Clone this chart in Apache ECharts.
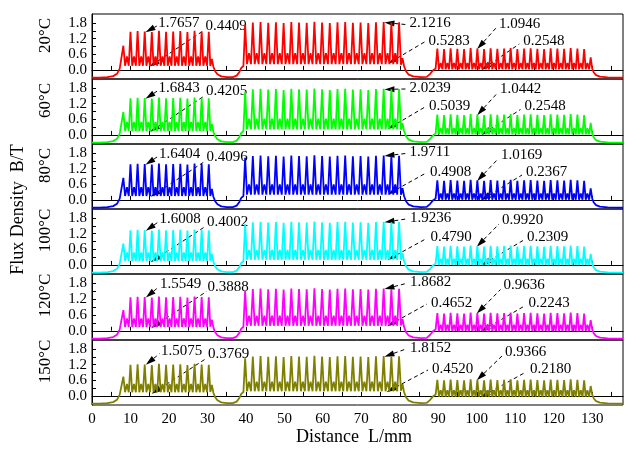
<!DOCTYPE html>
<html><head><meta charset="utf-8">
<script src="https://cdn.jsdelivr.net/npm/echarts@6/dist/echarts.min.js"></script>
<style>html,body{margin:0;padding:0;background:#fff}#c{width:642px;height:450px}</style>
</head><body><div id="c"></div>
<script>
// ---------- data ----------
const temps = ['20°C','60°C','80°C','100°C','120°C','150°C'];
const xTicks = [0,5,10,15,20,25,30,35,40,45,50,55,60,65,70,75,80,85,90,95,100,105,110,115,120,125,130,135];
const xTickLabels = [0,10,20,30,40,50,60,70,80,90,100,110,120,130];
const yTicks = [0,0.3,0.6,0.9,1.2,1.5,1.8];
const yTickLabels = [0,0.6,1.2,1.8];

const peakXA = [8.15,10.0,11.85,13.7,15.55,17.4,19.25,21.1,22.95,24.8,26.65,28.5,30.35];
const peakXB = [39.8,41.8,43.8,45.8,47.8,49.8,51.8,53.8,55.8,57.8,59.8,61.8,63.8,65.8,67.8,69.8,71.8,73.8,75.8,77.8,79.8];
const peakXC = [89.75,91.5,93.2,94.95,96.7,98.4,100.15,101.9,103.6,105.35,107.1,108.8,110.55,112.3,114.0,115.75,117.5,119.2,120.95,122.7,124.4,126.15,127.9,129.6];

const peaksA20  = [0.93,1.47,1.49,1.48,1.46,1.50,1.47,1.48,1.49,1.46,1.50,1.48,1.47];
const peaksA60  = [0.88,1.41,1.43,1.42,1.40,1.44,1.41,1.42,1.43,1.40,1.44,1.42,1.41];
const peaksA80  = [0.85,1.37,1.39,1.38,1.36,1.40,1.37,1.38,1.39,1.36,1.40,1.38,1.37];
const peaksA100 = [0.82,1.33,1.35,1.34,1.32,1.36,1.33,1.34,1.35,1.32,1.36,1.34,1.33];
const peaksA120 = [0.78,1.27,1.29,1.28,1.26,1.30,1.27,1.28,1.29,1.26,1.30,1.28,1.27];
const peaksA150 = [0.74,1.20,1.22,1.21,1.19,1.23,1.20,1.21,1.22,1.19,1.23,1.21,1.20];

const peaksB20  = [1.74,1.82,1.84,1.81,1.83,1.80,1.84,1.82,1.81,1.85,1.82,1.80,1.83,1.84,1.81,1.82,1.80,1.83,1.84,1.82,1.83];
const peaksB60  = [1.67,1.75,1.77,1.74,1.76,1.73,1.77,1.75,1.74,1.78,1.75,1.73,1.76,1.77,1.74,1.75,1.73,1.76,1.77,1.75,1.76];
const peaksB80  = [1.62,1.69,1.71,1.68,1.70,1.67,1.71,1.69,1.68,1.72,1.69,1.67,1.70,1.71,1.68,1.69,1.67,1.70,1.71,1.69,1.70];
const peaksB100 = [1.57,1.64,1.66,1.63,1.65,1.62,1.66,1.64,1.63,1.67,1.64,1.62,1.65,1.66,1.63,1.64,1.62,1.65,1.66,1.64,1.65];
const peaksB120 = [1.51,1.58,1.60,1.57,1.59,1.56,1.60,1.58,1.57,1.61,1.58,1.56,1.59,1.60,1.57,1.58,1.56,1.59,1.60,1.58,1.59];
const peaksB150 = [1.45,1.51,1.53,1.50,1.52,1.49,1.53,1.51,1.50,1.54,1.51,1.49,1.52,1.53,1.50,1.51,1.49,1.52,1.53,1.51,1.52];

const peaksC20  = [0.82,0.80,0.83,0.81,0.80,0.84,0.82,0.80,0.83,0.81,0.82,0.84,0.80,0.82,0.83,0.81,0.80,0.83,0.82,0.81,0.84,0.82,0.80,0.48];
const peaksC60  = [0.78,0.76,0.79,0.77,0.76,0.80,0.78,0.76,0.79,0.77,0.78,0.80,0.76,0.78,0.79,0.77,0.76,0.79,0.78,0.77,0.80,0.78,0.76,0.46];
const peaksC80  = [0.75,0.73,0.76,0.74,0.73,0.77,0.75,0.73,0.76,0.74,0.75,0.77,0.73,0.75,0.76,0.74,0.73,0.76,0.75,0.74,0.77,0.75,0.73,0.44];
const peaksC100 = [0.72,0.70,0.73,0.71,0.70,0.74,0.72,0.70,0.73,0.71,0.72,0.74,0.70,0.72,0.73,0.71,0.70,0.73,0.72,0.71,0.74,0.72,0.70,0.42];
const peaksC120 = [0.67,0.65,0.68,0.66,0.65,0.69,0.67,0.65,0.68,0.66,0.67,0.69,0.65,0.67,0.68,0.66,0.65,0.68,0.67,0.66,0.69,0.67,0.65,0.40];
const peaksC150 = [0.62,0.60,0.63,0.61,0.60,0.64,0.62,0.60,0.63,0.61,0.62,0.64,0.60,0.62,0.63,0.61,0.60,0.63,0.62,0.61,0.64,0.62,0.60,0.38];

// valley / inter-peak bump levels per panel
const valleyA = [0.16,0.15,0.15,0.15,0.14,0.14];
const bumpA   = [0.52,0.50,0.49,0.48,0.47,0.46];
const valleyB = [0.22,0.21,0.20,0.20,0.19,0.18];
const bumpB   = [0.64,0.62,0.60,0.58,0.57,0.55];
const valleyC = [0.02,0.02,0.01,0.00,-0.01,-0.03];
const bumpC   = [0.27,0.26,0.25,0.24,0.23,0.22];

// edge (gap) points, shared by all panels
const leadIn = [[0,-0.30],[2,-0.30],[4,-0.28],[5.5,-0.24],[6.5,-0.15],[7.2,0.05],[7.6,0.12]];
const gapAB  = [[30.75,0.15],[31.15,0.42],[31.55,0.12],[32.0,-0.05],[32.6,-0.17],[33.6,-0.25],[35,-0.28],[36.6,-0.28],[37.6,-0.22],[38.3,-0.08],[38.8,0.08],[39.35,0.15]];
const gapBC  = [[80.3,0.20],[80.7,0.45],[81.1,0.15],[81.6,-0.05],[82.3,-0.18],[83.5,-0.25],[85.5,-0.28],[87,-0.27],[87.9,-0.15],[88.6,-0.02],[89.3,0.05]];
const tailOut = [[130.0,0.05],[130.4,-0.10],[131,-0.20],[132,-0.26],[134,-0.29],[138,-0.30]];

// annotations
const annotText20  = ['1.7657','0.4409','2.1216','0.5283','1.0946','0.2548'];
const annotText60  = ['1.6843','0.4205','2.0239','0.5039','1.0442','0.2548'];
const annotText80  = ['1.6404','0.4096','1.9711','0.4908','1.0169','0.2367'];
const annotText100 = ['1.6008','0.4002','1.9236','0.4790','0.9920','0.2309'];
const annotText120 = ['1.5549','0.3888','1.8682','0.4652','0.9636','0.2243'];
const annotText150 = ['1.5075','0.3769','1.8152','0.4520','0.9366','0.2180'];
const annotTip20  = [[13.9,1.45],[15.0,0.13],[76.0,1.82],[77.0,0.25],[100.1,0.80],[101.2,0.00]];
const annotTip60  = [[13.9,1.39],[15.1,0.12],[76.0,1.75],[76.9,0.23],[100.1,0.76],[101.2,0.00]];
const annotTip80  = [[13.9,1.35],[15.2,0.12],[76.0,1.69],[76.8,0.21],[100.1,0.73],[101.1,-0.01]];
const annotTip100 = [[14.0,1.31],[15.3,0.11],[76.0,1.64],[76.8,0.19],[100.0,0.70],[101.1,-0.02]];
const annotTip120 = [[14.0,1.26],[15.4,0.10],[76.0,1.58],[76.7,0.17],[100.0,0.65],[101.0,-0.03]];
const annotTip150 = [[14.0,1.20],[15.5,0.08],[76.0,1.51],[76.6,0.15],[100.0,0.60],[101.0,-0.05]];

// ---------- layout / style ----------
const colors = ['#ff0000','#00ff00','#0000ff','#00ffff','#ff00ff','#808000'];
const gridTops = [14,79,144,209,274,340];
const gridHeights = [65,65,65,65,66,65];
const GL = 92, GW = 531;
const FONT = '"Liberation Serif","Times New Roman",serif';
// text left x / center-y offset from panel top
const textPos = [
  [[158.3,9.3],[205.5,12],[409.5,9.5],[428.5,27],[499,10],[523.3,27]],
  [[158.5,9.5],[206,12.5],[409.5,9],[429,27],[500,10.5],[524.5,27.5]],
  [[159,10],[206.5,13],[409.5,8.5],[430,28],[501,11],[526,28]],
  [[159.5,10.5],[207,13],[410,9],[430.5,28.5],[502,11],[527,28.5]],
  [[160,10.5],[207.5,13.5],[410,8.5],[431,29],[503.5,11.5],[528.5,29]],
  [[161,11],[208,14],[410,8],[432,29],[505,12],[530,29]]
];
const lineStartOff = [[-1.5,2.7],[-1,4],[-4,1],[-4,1],[-3,4],[-4,3]];

const peaksA = [peaksA20,peaksA60,peaksA80,peaksA100,peaksA120,peaksA150];
const peaksB = [peaksB20,peaksB60,peaksB80,peaksB100,peaksB120,peaksB150];
const peaksC = [peaksC20,peaksC60,peaksC80,peaksC100,peaksC120,peaksC150];
const annotTexts = [annotText20,annotText60,annotText80,annotText100,annotText120,annotText150];
const annotTips = [annotTip20,annotTip60,annotTip80,annotTip100,annotTip120,annotTip150];

// joins the read peak / valley / bump levels of one segment into a polyline
function addSegment(pts, xs, ps, v, b) {
  for (let i = 0; i < xs.length; i++) {
    pts.push([xs[i], ps[i]]);
    if (i < xs.length - 1) {
      const d = xs[i+1] - xs[i];
      pts.push([xs[i] + 0.24*d, v]);
      pts.push([xs[i] + 0.5*d, b]);
      pts.push([xs[i] + 0.76*d, v]);
    }
  }
}
function buildPanel(k) {
  const pts = leadIn.slice();
  addSegment(pts, peakXA, peaksA[k], valleyA[k], bumpA[k]);
  pts.push(...gapAB);
  addSegment(pts, peakXB, peaksB[k], valleyB[k], bumpB[k]);
  pts.push(...gapBC);
  addSegment(pts, peakXC, peaksC[k], valleyC[k], bumpC[k]);
  pts.push(...tailOut);
  return pts;
}

const grids = [], xAxes = [], yAxes = [], series = [], staticGraphic = [];
for (let k = 0; k < 6; k++) {
  grids.push({left: GL, top: gridTops[k], width: GW, height: gridHeights[k], show: true, borderColor: '#000', borderWidth: 1, backgroundColor: 'transparent'});
  const last = k === 5;
  xAxes.push({
    type: 'value', gridIndex: k, min: 0, max: 138,
    axisLine: {show: true, lineStyle: {color: '#000', width: 1}},
    axisTick: {show: true, inside: true, length: 4, customValues: xTicks, lineStyle: {color: '#000'}},
    axisLabel: {show: last, customValues: xTickLabels, margin: 7, color: '#000', fontFamily: FONT, fontSize: 15},
    splitLine: {show: false}
  });
  yAxes.push({
    type: 'value', gridIndex: k, min: -0.35, max: 2.15,
    axisLine: {show: true, lineStyle: {color: '#000', width: 1}},
    axisTick: {show: true, inside: true, length: 4, customValues: yTicks, lineStyle: {color: '#000'}},
    axisLabel: {show: true, customValues: yTickLabels, margin: 5, color: '#000', fontFamily: FONT, fontSize: 15,
      formatter: v => Number(v).toFixed(1)},
    splitLine: {show: false}
  });
  series.push({
    type: 'line', xAxisIndex: k, yAxisIndex: k, data: buildPanel(k),
    showSymbol: false, symbol: 'none', lineStyle: {color: colors[k], width: 1.8}, itemStyle: {color: colors[k]},
    animation: false, silent: true
  });
  staticGraphic.push({
    type: 'text', x: 45.5, y: gridTops[k] + 21.5, rotation: Math.PI/2,
    style: {text: temps[k], fill: '#000', font: '17px ' + FONT, textAlign: 'center', textVerticalAlign: 'middle'}
  });
}
staticGraphic.push({type: 'text', x: 18, y: 209.5, rotation: Math.PI/2,
  style: {text: 'Flux Density  B/T', fill: '#000', font: '18px ' + FONT, textAlign: 'center', textVerticalAlign: 'middle'}});
staticGraphic.push({type: 'text', x: 354, y: 437,
  style: {text: 'Distance  L/mm', fill: '#000', font: '18px ' + FONT, textAlign: 'center', textVerticalAlign: 'middle'}});

const chart = echarts.init(document.getElementById('c'), null, {renderer: 'canvas'});
chart.setOption({animation: false, backgroundColor: '#fff', grid: grids, xAxis: xAxes, yAxis: yAxes, series: series, graphic: staticGraphic});

// annotations (arrows + labels) positioned through the axes
const g = staticGraphic.slice();
for (let k = 0; k < 6; k++) {
  for (let j = 0; j < 6; j++) {
    const tip = chart.convertToPixel({gridIndex: k}, annotTips[k][j]);
    const tx = textPos[k][j][0], ty = gridTops[k] + textPos[k][j][1];
    let sx = tx + lineStartOff[j][0], sy = ty + lineStartOff[j][1];
    if (j === 2) sy = (sy + tip[1]) / 2 + 0.5*(sy - tip[1]);
    const dx = sx - tip[0], dy = sy - tip[1];
    const L = Math.sqrt(dx*dx + dy*dy) || 1;
    const ux = dx / L, uy = dy / L;
    const hl = 10, hw = 3;
    const bx = tip[0] + ux*hl, by = tip[1] + uy*hl;
    g.push({type: 'line', silent: true, shape: {x1: bx, y1: by, x2: sx, y2: sy},
      style: {stroke: '#000', lineWidth: 1, lineDash: [4, 3]}});
    g.push({type: 'polygon', silent: true, shape: {points: [[tip[0], tip[1]], [bx - uy*hw, by + ux*hw], [bx + uy*hw, by - ux*hw]]},
      style: {fill: '#000'}});
    g.push({type: 'text', silent: true, x: tx, y: ty,
      style: {text: annotTexts[k][j], fill: '#000', font: '15px ' + FONT, textAlign: 'left', textVerticalAlign: 'middle'}});
  }
}
chart.setOption({graphic: g}, {replaceMerge: ['graphic']});
</script></body></html>
